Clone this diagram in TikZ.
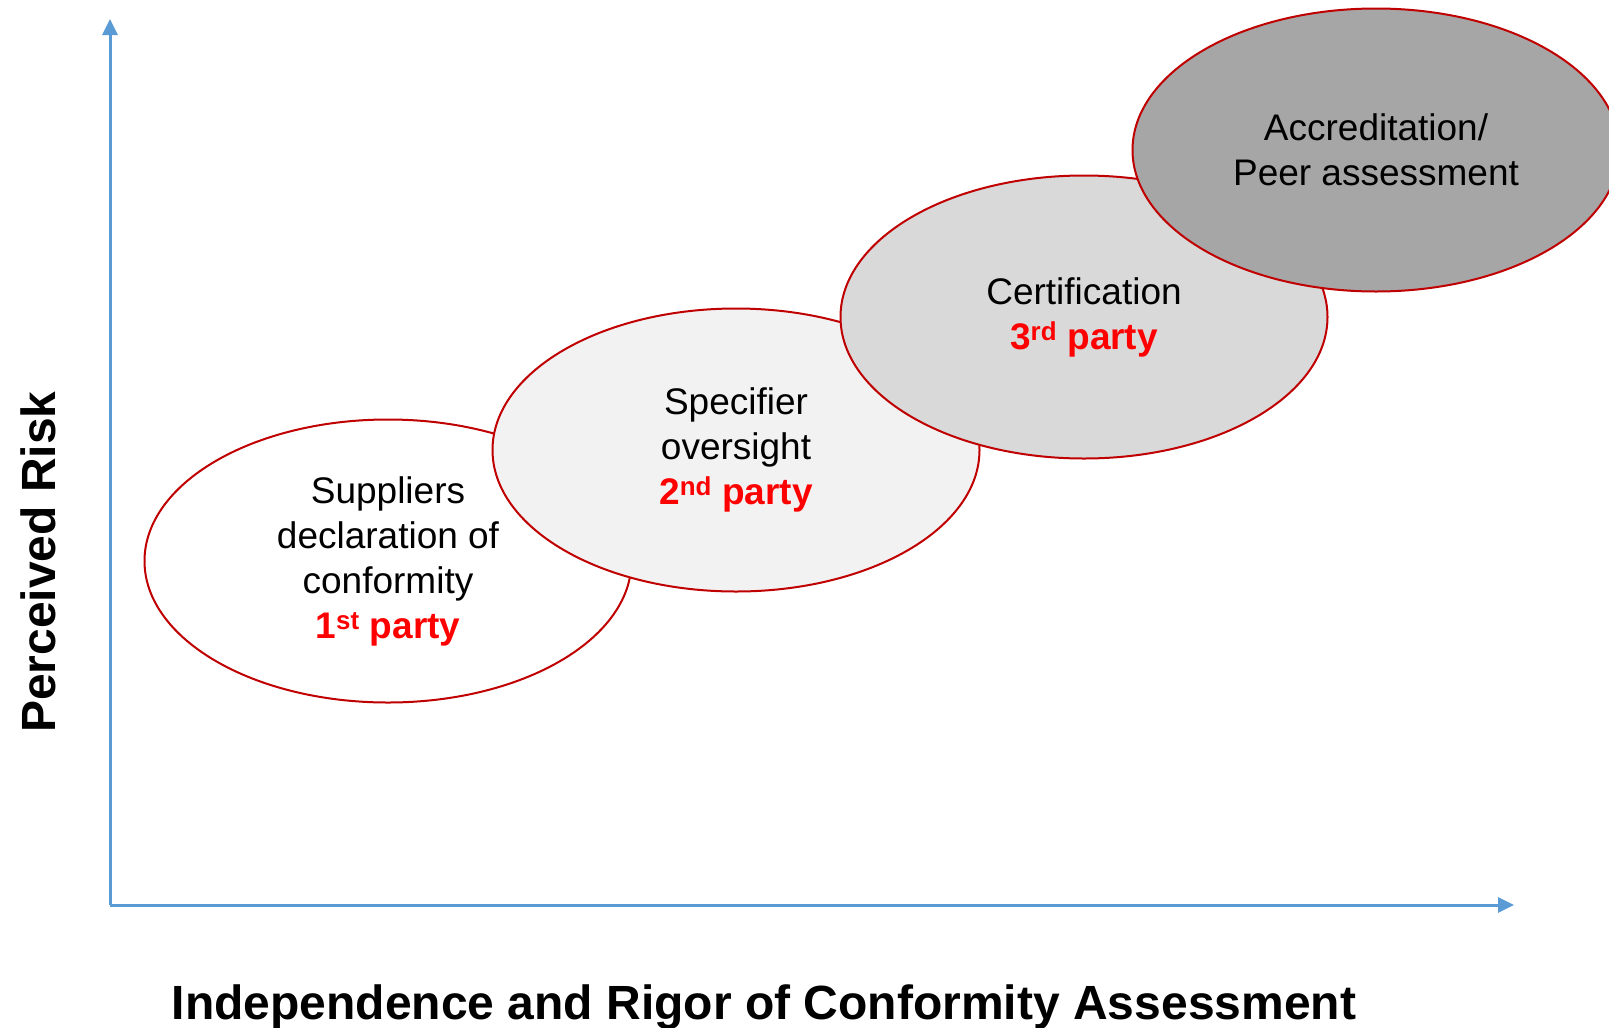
\documentclass[tikz,border=0pt]{standalone}
\usepackage{fontspec}
\setmainfont{Liberation Sans}
\usetikzlibrary{shapes.geometric,arrows.meta}
\definecolor{axisblue}{HTML}{5B9BD5}
\definecolor{rimred}{HTML}{C00000}
\definecolor{partyred}{HTML}{FF0000}
\tikzstyle{level} = [ellipse, minimum width=487pt, minimum height=283pt, inner sep=0pt, draw=rimred, line width=2pt, text centered, align=center, font=\fontsize{37}{45}\selectfont]
\tikzstyle{axis} = [draw=axisblue, line width=3pt, -{Triangle[length=16pt,width=15pt]}]
\tikzstyle{title} = [font=\fontsize{48}{54}\selectfont\bfseries]
\newcommand{\party}[1]{\textcolor{partyred}{\bfseries #1}}

\begin{document}
\begin{tikzpicture}[x=1pt, y=-1pt]
	\useasboundingbox (0,0) rectangle (1609,1028);
	\clip (0,0) rectangle (1609,1028);
	\coordinate (origin) at (110,905);
	\coordinate (ytip) at (110,19);
	\coordinate (xtip) at (1514,905);
	\draw [axis] (origin) -- (ytip);
	\draw [axis] (origin) -- (xtip);
	\node (first) [level, fill=white] at (388,561) {Suppliers\\declaration of\\conformity\\\party{1\textsuperscript{st} party}};
	\node (second) [level, fill=black!5] at (736,450) {Specifier\\oversight\\\party{2\textsuperscript{nd} party}};
	\node (third) [level, fill=black!15] at (1084,317) {Certification\\\party{3\textsuperscript{rd} party}};
	\node (fourth) [level, fill=black!35] at (1376,150) {Accreditation/\\Peer assessment};
	\node (risk) [title, rotate=90] at (38,562) {Perceived Risk};
	\node (rigor) [title, anchor=base] at (764,1019) {Independence and Rigor of Conformity Assessment};
\end{tikzpicture}
\end{document}
